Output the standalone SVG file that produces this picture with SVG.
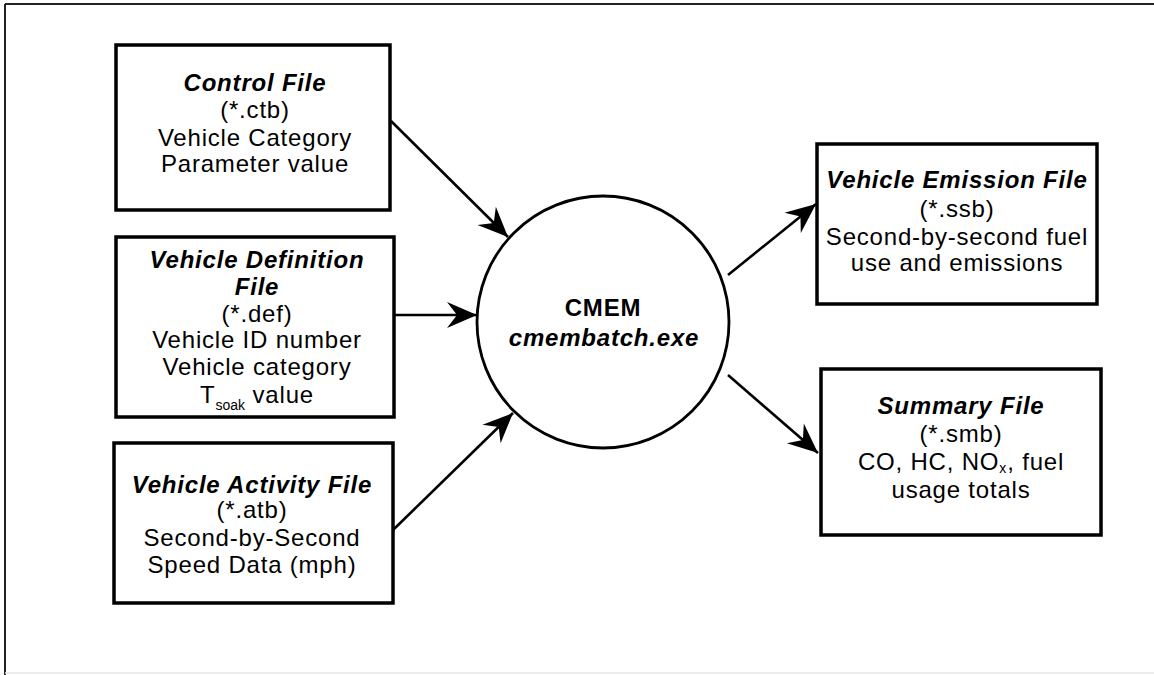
<svg xmlns="http://www.w3.org/2000/svg" width="1154" height="675" viewBox="0 0 1154 675">
<style>
.box{fill:#fff;stroke:#000;stroke-width:3.5}
.t{font-family:"Liberation Sans",Arial,sans-serif;font-size:24px;fill:#000;text-anchor:middle;letter-spacing:0.8px}
.h{font-weight:bold;font-style:italic}
.c{fill:none;stroke:#000;stroke-width:2.6}
.sub{font-size:14px;letter-spacing:0}
</style>
<defs>
<marker id="ah" viewBox="-31 -14 32 28" markerUnits="userSpaceOnUse" markerWidth="32" markerHeight="28" refX="0" refY="0" orient="auto">
<path d="M0,0 L-30,-13 L-20,0 L-30,13 Z" fill="#000"/>
</marker>
</defs>
<rect width="1154" height="675" fill="#fff"/>
<g id="frame">
<line x1="5" y1="4" x2="1154" y2="4" stroke="#222" stroke-width="2"/>
<line x1="5" y1="4" x2="5" y2="675" stroke="#222" stroke-width="2"/>
<line x1="5" y1="673" x2="1154" y2="673" stroke="#e6e6e6" stroke-width="1.5"/>
</g>
<g id="connectors">
<line class="c" x1="391" y1="121" x2="508" y2="237" marker-end="url(#ah)"/>
<line class="c" x1="394" y1="315" x2="477" y2="315" stroke-width="3.5" marker-end="url(#ah)"/>
<line class="c" x1="393" y1="530" x2="513" y2="413" marker-end="url(#ah)"/>
<line class="c" x1="728" y1="275" x2="816" y2="204" marker-end="url(#ah)"/>
<line class="c" x1="728" y1="375" x2="818" y2="453" marker-end="url(#ah)"/>
</g>
<g id="control">
<rect class="box" x="116" y="45" width="274" height="165"/>
<text class="t" x="255" y="91"><tspan class="h">Control File</tspan><tspan x="255" y="118">(*.ctb)</tspan><tspan x="255" y="146">Vehicle Category</tspan><tspan x="255" y="172">Parameter value</tspan></text>
</g>
<g id="definition">
<rect class="box" x="116" y="237" width="278" height="180"/>
<text class="t" x="257" y="268"><tspan class="h">Vehicle Definition</tspan><tspan class="h" x="257" y="295">File</tspan><tspan x="257" y="322">(*.def)</tspan><tspan x="257" y="348">Vehicle ID number</tspan><tspan x="257" y="375">Vehicle category</tspan><tspan x="257" y="403">T<tspan class="sub" dy="7">soak</tspan><tspan dy="-7"> value</tspan></tspan></text>
</g>
<g id="activity">
<rect class="box" x="114" y="443" width="279" height="160"/>
<text class="t" x="252" y="493"><tspan class="h">Vehicle Activity File</tspan><tspan x="252" y="518">(*.atb)</tspan><tspan x="252" y="546">Second-by-Second</tspan><tspan x="252" y="573">Speed Data (mph)</tspan></text>
</g>
<g id="cmem">
<circle cx="603" cy="322" r="126" fill="#fff" stroke="#000" stroke-width="2.8"/>
<text class="t" x="603" y="316" font-weight="bold">CMEM</text>
<text class="t h" x="604" y="346">cmembatch.exe</text>
</g>
<g id="emission">
<rect class="box" x="817" y="144" width="280" height="160"/>
<text class="t" x="957" y="188"><tspan class="h">Vehicle Emission File</tspan><tspan x="957" y="217">(*.ssb)</tspan><tspan x="957" y="245">Second-by-second fuel</tspan><tspan x="957" y="271">use and emissions</tspan></text>
</g>
<g id="summary">
<rect class="box" x="821" y="369" width="280" height="166"/>
<text class="t" x="961" y="414"><tspan class="h">Summary File</tspan><tspan x="961" y="442">(*.smb)</tspan><tspan x="961" y="470">CO, HC, NO<tspan class="sub" font-size="13" dy="3">x</tspan><tspan dx="1" dy="-3">, fuel</tspan></tspan><tspan x="961" y="498">usage totals</tspan></text>
</g>
</svg>
